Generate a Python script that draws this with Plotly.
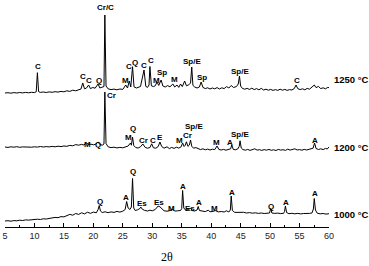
import plotly.graph_objects as go

# ---------------- data (2θ, relative intensity) ----------------
tt_1000 = [5.0,5.5,6.0,6.5,7.0,7.5,8.0,8.5,9.0,9.5,10.0,10.5,11.0,11.5,12.0,12.5,13.0,13.5,14.0,14.5,
           15.0,15.5,16.0,16.5,17.0,17.5,18.0,18.5,19.0,19.5,20.0,20.5,20.8,21.0,21.2,21.5,22.0,22.5,23.0,23.5,
           24.0,24.5,25.0,25.4,25.65,25.9,26.2,26.45,26.65,26.85,27.1,27.5,27.9,28.05,28.3,28.7,29.2,29.6,30.0,30.5,
           30.8,31.0,31.3,31.6,32.0,32.5,33.0,33.5,33.8,34.3,34.8,35.0,35.15,35.35,35.7,36.1,36.5,36.8,37.2,37.6,
           37.8,38.0,38.5,39.0,39.5,39.8,40.3,40.7,41.2,41.7,42.2,42.6,43.0,43.25,43.4,43.6,44.0,44.5,45.0,45.5,
           46.0,46.5,47.0,47.5,48.0,48.5,49.0,49.5,49.9,50.1,50.3,50.8,51.3,51.8,52.3,52.45,52.6,52.8,53.2,53.7,
           54.2,54.7,55.2,55.7,56.2,56.7,57.1,57.35,57.5,57.7,58.0,58.5,59.0,59.5,60.0]
int_1000 = [6.0,6.3,5.8,6.4,6.2,6.8,6.5,7.1,6.9,7.4,7.2,7.8,7.5,8.2,8.0,8.6,8.8,9.6,9.3,10.4,
            10.1,11.2,12.6,11.8,13.5,12.6,14.2,13.1,14.8,13.6,14.9,14.2,17.5,21.5,16.0,14.5,15.2,14.3,15.1,14.6,
            15.6,14.9,15.8,17.5,25.5,19.0,17.5,20.0,48.5,19.0,16.5,17.2,18.5,20.0,17.8,16.6,16.0,16.8,16.2,17.5,
            19.5,21.0,20.2,18.0,16.2,15.8,16.4,17.8,15.9,16.2,16.5,18.5,36.5,19.0,16.6,17.5,18.6,16.4,16.0,17.0,
            20.5,16.5,15.8,15.4,16.8,15.2,15.6,16.4,15.1,15.5,15.0,16.2,15.0,17.0,31.0,16.5,14.6,14.8,14.3,14.7,
            14.0,14.4,13.8,14.2,13.6,14.0,13.5,13.9,14.0,18.5,14.0,13.6,13.9,13.4,13.7,15.5,21.0,14.5,13.3,13.7,
            13.2,13.6,13.1,13.5,13.2,13.6,14.0,18.0,28.5,17.0,13.8,13.2,13.5,12.9,13.3]

tt_1200 = [5.0,5.5,6.0,6.5,7.0,7.5,8.0,8.5,9.0,9.5,10.0,10.5,11.0,11.5,12.0,12.5,13.0,13.5,14.0,14.5,
           15.0,15.5,16.0,16.5,17.0,17.5,18.0,18.4,18.8,19.2,19.6,20.0,20.4,20.8,21.1,21.5,21.8,21.95,22.15,22.5,
           23.0,23.5,24.0,24.5,25.0,25.5,25.9,26.3,26.45,26.65,26.85,27.2,27.6,28.0,28.4,28.8,29.2,29.6,29.9,30.2,
           30.6,31.0,31.3,31.6,32.0,32.5,32.9,33.3,33.7,34.1,34.5,34.9,35.15,35.4,35.6,35.8,36.05,36.3,36.5,36.7,
           37.0,37.4,37.8,38.2,38.6,39.0,39.4,39.8,40.2,40.6,41.0,41.3,41.7,42.1,42.5,42.9,43.3,43.5,43.75,44.1,
           44.5,44.75,44.9,45.1,45.4,45.8,46.2,46.6,47.0,47.4,47.8,48.2,48.6,49.0,49.4,49.8,50.2,50.6,51.0,51.4,
           51.8,52.2,52.6,53.0,53.4,53.8,54.2,54.6,55.0,55.4,55.8,56.2,56.6,57.0,57.3,57.55,57.8,58.2,58.6,59.0,
           59.4,59.7,60.0]
int_1200 = [8.0,7.6,8.2,7.8,8.3,7.7,8.1,7.9,8.4,7.8,8.2,7.9,8.5,8.0,8.4,8.1,8.6,8.2,8.8,8.4,
            9.0,8.7,9.6,9.2,10.4,9.8,10.6,10.0,12.2,10.4,10.8,10.2,10.9,13.0,10.5,9.8,11.0,63.0,11.5,8.2,
            7.4,7.8,7.1,7.6,7.2,8.0,9.0,12.0,9.8,18.0,9.5,7.4,7.0,8.2,11.0,7.6,6.8,7.5,11.2,7.2,
            6.8,8.4,13.0,8.5,6.8,8.2,6.4,7.6,6.6,7.8,6.9,8.2,12.0,8.5,9.8,13.2,8.6,10.0,15.0,8.8,
            6.8,7.4,6.0,5.4,6.2,5.2,5.9,5.0,5.8,5.4,9.0,5.6,5.0,5.6,4.8,5.8,6.2,10.0,5.6,5.2,
            6.0,8.5,14.2,7.0,5.4,4.8,5.6,4.6,5.2,6.2,4.9,5.3,4.6,5.4,4.8,5.6,4.7,5.2,4.5,5.6,
            4.9,5.3,4.6,5.8,4.9,5.2,6.2,5.0,5.4,4.8,5.6,5.0,5.4,5.8,6.8,12.0,6.5,5.5,6.2,5.4,
            6.6,6.0,8.0]

tt_1250 = [5.0,5.5,6.0,6.5,7.0,7.5,8.0,8.5,9.0,9.5,10.0,10.3,10.5,10.7,11.0,11.5,12.0,12.5,13.0,13.5,
           14.0,14.5,15.0,15.5,16.0,16.5,17.0,17.5,17.9,18.2,18.5,18.8,19.2,19.5,19.9,20.3,20.8,21.1,21.5,21.8,
           21.95,22.15,22.5,23.0,23.5,24.0,24.5,25.0,25.5,25.8,26.1,26.35,26.65,26.9,27.3,27.7,28.0,28.6,28.9,29.2,
           29.45,29.6,29.85,30.2,30.5,30.8,31.1,31.5,31.8,32.2,32.6,33.0,33.5,33.8,34.2,34.5,34.8,35.1,35.5,35.8,
           36.2,36.5,36.7,36.9,37.2,37.6,38.0,38.3,38.6,39.0,39.4,39.8,40.2,40.6,41.0,41.4,41.8,42.2,42.6,43.0,
           43.4,43.8,44.3,44.6,44.8,45.0,45.3,45.7,46.1,46.5,46.9,47.3,47.7,48.1,48.5,48.9,49.3,49.7,50.1,50.5,
           50.9,51.3,51.7,52.1,52.5,52.9,53.3,53.7,54.1,54.4,54.7,55.1,55.5,55.9,56.3,56.7,57.1,57.5,57.8,58.2,
           58.6,59.0,59.4,59.8,60.0]
int_1250 = [2.0,2.3,1.8,2.4,2.0,2.5,2.1,2.6,2.2,2.7,2.4,3.2,22.3,3.4,2.6,3.0,2.5,3.1,2.7,3.3,
            2.9,3.6,3.2,4.2,3.6,4.8,4.2,5.6,6.0,12.0,6.2,6.8,10.0,6.4,7.5,6.8,11.0,7.0,7.6,8.5,
            80.0,9.0,6.2,5.4,5.9,5.2,6.0,5.6,10.0,7.0,14.0,8.0,28.3,8.2,7.0,7.8,8.5,25.0,8.6,7.6,
            10.0,28.5,9.2,8.4,9.2,13.0,9.6,15.0,9.0,8.0,9.4,8.2,11.0,8.0,10.0,7.6,11.0,8.4,14.0,9.2,
            10.2,12.0,28.0,9.6,8.0,7.0,8.0,13.0,7.6,6.4,7.2,6.0,7.0,6.2,7.4,6.0,7.2,6.4,8.4,7.0,
            9.5,7.5,8.5,11.0,19.0,9.0,6.6,5.8,6.6,5.6,6.8,5.4,6.4,5.2,6.6,5.0,5.8,4.8,5.6,4.6,
            5.4,4.6,5.8,4.8,5.6,4.6,5.4,5.0,6.4,10.0,6.4,5.4,6.2,5.2,6.6,5.8,7.8,10.0,7.4,8.6,
            6.4,7.2,6.2,7.6,7.3]

# phase labels: (text, 2θ, height relative to each pattern)
labels_1000 = [("Q", 21.1, 25.3), ("A", 25.6, 29.7), ("Q", 26.8, 55.3), ("Es", 28.2, 23.7),
               ("Es", 31.2, 24.7), ("M", 33.3, 18.7), ("A", 35.3, 41.0), ("Es", 36.4, 18.7),
               ("A", 37.9, 24.7), ("M", 40.6, 18.5), ("A", 43.5, 34.7), ("Q", 50.2, 21.0),
               ("A", 52.7, 24.3), ("A", 57.6, 33.7)]
labels_1200 = [("M", 19.0, 10.3), ("Q", 20.8, 10.3), ("Cr", 23.0, 60.0), ("M", 25.9, 17.7),
               ("Q", 26.7, 26.3), ("Cr", 28.5, 14.7), ("C", 30.1, 14.7), ("E", 31.3, 17.7),
               ("M", 34.7, 14.7), ("Cr", 36.0, 19.7), ("Sp/E", 37.0, 28.7), ("M", 40.9, 13.0),
               ("A", 43.2, 13.0), ("Sp/E", 44.9, 21.0), ("A", 57.6, 14.3)]
labels_1250 = [("C", 10.55, 28.3), ("C", 18.2, 18.3), ("C", 19.3, 15.0), ("Q", 21.0, 15.0),
               ("Cr/C", 22.0, 87.7), ("M", 25.5, 15.0), ("C", 26.05, 28.3), ("Q", 27.0, 32.7),
               ("C", 28.6, 29.3), ("C", 29.8, 35.0), ("M", 30.75, 15.0), ("Sp", 31.7, 22.3),
               ("M", 33.7, 16.0), ("Sp/E", 36.8, 33.3), ("Sp", 38.4, 17.7), ("Sp/E", 44.9, 23.3),
               ("C", 54.5, 15.0)]

temperatures = ["1000 °C", "1200 °C", "1250 °C"]
temp_label_height = [13.0, 8.0, 16.0]
x_ticks = [5, 10, 15, 20, 25, 30, 35, 40, 45, 50, 55, 60]

# ---------------- layout / styling ----------------
offsets = [0, 72, 132]
X_MIN, X_MAX = 5, 60
patterns = [(tt_1000, int_1000, labels_1000),
            (tt_1200, int_1200, labels_1200),
            (tt_1250, int_1250, labels_1250)]

fig = go.Figure()
annotations = []
lab_font = dict(family="Liberation Sans, Arial, sans-serif", size=8, color="black", weight="bold")

for (tt, inten, labs), off, temp, th in zip(patterns, offsets, temperatures, temp_label_height):
    fig.add_trace(go.Scatter(x=tt, y=[v + off for v in inten], mode="lines",
                             line=dict(color="black", width=1), showlegend=False,
                             hoverinfo="skip"))
    for txt, x, h in labs:
        annotations.append(dict(x=x, y=h + off, xref="x", yref="y", text=txt,
                                showarrow=False, xanchor="center", yanchor="middle",
                                font=lab_font))
    annotations.append(dict(x=1.008, y=th + off, xref="paper", yref="y", text=temp,
                            showarrow=False, xanchor="left", yanchor="middle",
                            font=dict(family="Liberation Sans, Arial, sans-serif", size=9.5,
                                      color="black", weight="bold")))

annotations.append(dict(x=0.5, y=-0.13, xref="paper", yref="paper", text="2θ",
                        showarrow=False, xanchor="center", yanchor="middle",
                        font=dict(family="Liberation Serif, Times New Roman, serif",
                                  size=12, color="black")))

fig.update_layout(
    width=369, height=266,
    margin=dict(l=5, r=40, t=0, b=39),
    paper_bgcolor="white", plot_bgcolor="white",
    annotations=annotations,
    xaxis=dict(range=[X_MIN, X_MAX], tickvals=x_ticks, ticktext=[str(t) for t in x_ticks],
               showgrid=False, zeroline=False, showline=True, linecolor="black",
               linewidth=1, ticks="inside", ticklen=4, tickcolor="black",
               tickfont=dict(family="Liberation Sans, Arial, sans-serif", size=9,
                             color="#222"),
               minor=dict(dtick=2.5, tick0=5, ticks="inside", ticklen=2,
                          tickcolor="black", showgrid=False)),
    yaxis=dict(range=[0, 227], visible=False, showgrid=False, zeroline=False),
)

fig.write_html("out.html", config={"displayModeBar": False},
               post_script="document.body.style.margin='0px';document.body.style.overflow='hidden';")
